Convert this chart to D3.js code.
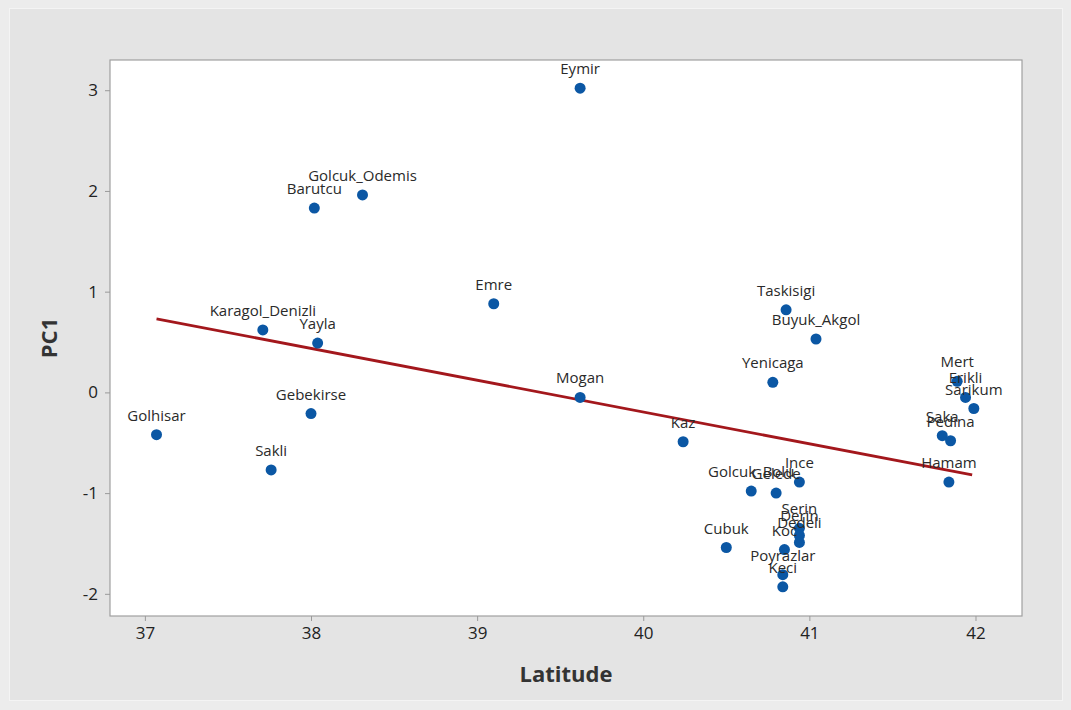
<!DOCTYPE html>
<html>
<head>
<meta charset="utf-8">
<script src="https://cdn.jsdelivr.net/npm/d3@7"></script>
<style>
  html, body { margin: 0; padding: 0; background: #ececec; }
  svg { display: block; }
</style>
</head>
<body>
<svg id="chart" width="1071" height="710"></svg>
<script>
// ---- data ----
const names = ["Eymir","Golcuk_Odemis","Barutcu","Emre","Karagol_Denizli","Yayla","Taskisigi","Buyuk_Akgol","Yenicaga","Mogan","Golhisar","Gebekirse","Sakli","Kaz","Mert","Erikli","Sarikum","Saka","Pedina","Hamam","Ince","Golcuk_Bolu","Gelede","Cubuk","Serin","Derin","Dedeli","Koc","Poyrazlar","Keci"];
const latitude = [39.62,38.31,38.02,39.10,37.71,38.04,40.86,41.04,40.78,39.62,37.07,38.00,37.76,40.24,41.89,41.94,41.99,41.80,41.85,41.84,40.94,40.65,40.80,40.50,40.94,40.94,40.94,40.85,40.84,40.84];
const pc1 = [3.02,1.96,1.83,0.88,0.62,0.49,0.82,0.53,0.10,-0.05,-0.42,-0.21,-0.77,-0.49,0.11,-0.05,-0.16,-0.43,-0.48,-0.89,-0.89,-0.98,-1.00,-1.54,-1.35,-1.42,-1.49,-1.56,-1.81,-1.93];
const fitLat = [37.07, 41.98];
const fitPC1 = [0.73, -0.82];
const xTicks = [37,38,39,40,41,42];
const yTicks = [-2,-1,0,1,2,3];
const xTitle = "Latitude";
const yTitle = "PC1";

// ---- layout ----
const svg = d3.select("#chart");
const W = 1071, H = 710;
const plot = {left: 110, top: 60, right: 1022, bottom: 616};

svg.append("rect").attr("x", 0).attr("y", 0).attr("width", W).attr("height", H).attr("fill", "#ececec");
svg.append("rect").attr("x", 9.5).attr("y", 8.5).attr("width", 1053).attr("height", 692)
  .attr("fill", "#e4e4e4").attr("stroke", "#f4f4f4").attr("stroke-width", 1);

const x = d3.scaleLinear().domain([36.79, 42.28]).range([plot.left, plot.right]);
const y = d3.scaleLinear().domain([-2.22, 3.30]).range([plot.bottom, plot.top]);

svg.append("rect").attr("x", plot.left).attr("y", plot.top)
  .attr("width", plot.right - plot.left).attr("height", plot.bottom - plot.top)
  .attr("fill", "#ffffff").attr("stroke", "#a0a0a0").attr("stroke-width", 1.2);

const font = "'Open Sans', 'Noto Sans', sans-serif";
const fmt = d => String(d);

const xAxis = svg.append("g").attr("transform", `translate(0,${plot.bottom})`)
  .call(d3.axisBottom(x).tickValues(xTicks).tickSize(5).tickPadding(6).tickFormat(fmt));
const yAxis = svg.append("g").attr("transform", `translate(${plot.left},0)`)
  .call(d3.axisLeft(y).tickValues(yTicks).tickSize(5).tickPadding(7).tickFormat(fmt));
[xAxis, yAxis].forEach(g => {
  g.select(".domain").remove();
  g.selectAll(".tick line").attr("stroke", "#9a9a9a");
  g.selectAll(".tick text").attr("fill", "#222").style("font-family", font).style("font-size", "17px");
});

// fit line
const lineData = fitLat.map((d, i) => [d, fitPC1[i]]);
svg.append("path").datum(lineData)
  .attr("d", d3.line().x(d => x(d[0])).y(d => y(d[1])))
  .attr("stroke", "#a3171c").attr("stroke-width", 2.8).attr("fill", "none");

// points
const pts = names.map((n, i) => ({name: n, lat: latitude[i], v: pc1[i]}));
svg.append("g").selectAll("circle").data(pts).join("circle")
  .attr("cx", d => x(d.lat)).attr("cy", d => y(d.v)).attr("r", 5.5)
  .attr("fill", "#0b57a4");

svg.append("g").selectAll("text").data(pts).join("text")
  .attr("x", d => x(d.lat)).attr("y", d => y(d.v) - 14)
  .attr("text-anchor", "middle")
  .style("font-family", font).style("font-size", "15px").attr("fill", "#2a2a2a")
  .text(d => d.name);

// titles
svg.append("text").attr("x", (plot.left + plot.right) / 2).attr("y", 682)
  .attr("text-anchor", "middle").style("font-family", font).style("font-size", "22px")
  .style("font-weight", "bold").attr("fill", "#333").text(xTitle);
svg.append("text").attr("transform", `translate(57,${(plot.top + plot.bottom) / 2}) rotate(-90)`)
  .attr("text-anchor", "middle").style("font-family", font).style("font-size", "22px")
  .style("font-weight", "bold").attr("fill", "#333").text(yTitle);
</script>
</body>
</html>
